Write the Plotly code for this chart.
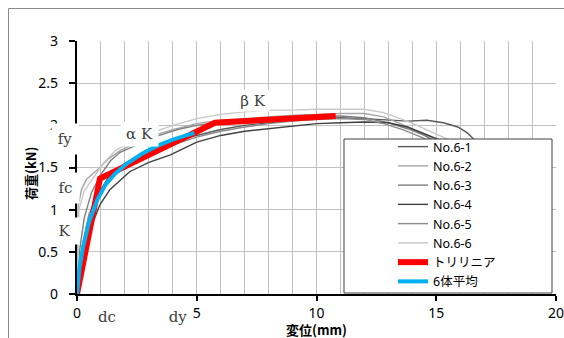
import plotly.graph_objects as go

# Load-displacement curves of the six specimens (displacement mm, load kN)
disp_61 = [0, 0.15, 0.4, 0.8, 1.3, 2.0, 3.0, 4.0, 5.0, 6.0, 7.0, 8.0, 9.0, 10.0, 11.0, 12.0, 13.0, 13.8, 14.6, 15.3, 15.9, 16.3, 16.55, 16.7]
load_61 = [0, 0.40, 0.80, 1.15, 1.38, 1.55, 1.70, 1.80, 1.88, 1.95, 2.00, 2.03, 2.06, 2.08, 2.09, 2.08, 2.06, 2.05, 2.06, 2.03, 1.98, 1.91, 1.84, 1.60]

disp_62 = [0, 0.02, 0.05, 0.2, 0.4, 0.96, 1.3, 1.8, 2.5, 3.2, 4.0, 5.0, 6.0, 7.0, 8.0, 9.0, 10.0, 11.0, 12.0, 12.8, 13.5, 14.2, 14.8, 15.3]
load_62 = [0, 0.50, 1.05, 1.25, 1.36, 1.50, 1.60, 1.70, 1.80, 1.88, 1.95, 2.02, 2.06, 2.08, 2.10, 2.12, 2.13, 2.14, 2.14, 2.10, 2.02, 1.93, 1.85, 1.70]

disp_63 = [0, 0.1, 0.3, 0.6, 1.0, 1.4, 1.8, 2.5, 3.3, 4.2, 5.0, 6.0, 7.0, 8.0, 9.0, 10.0, 11.0, 12.0, 13.0, 13.8, 14.5, 15.1, 15.4]
load_63 = [0, 0.50, 0.90, 1.20, 1.42, 1.58, 1.68, 1.77, 1.87, 1.95, 2.00, 2.04, 2.07, 2.09, 2.10, 2.11, 2.11, 2.09, 2.03, 1.96, 1.88, 1.78, 1.60]

disp_64 = [0, 0.3, 0.6, 0.96, 1.38, 2.2, 3.0, 3.9, 5.0, 6.0, 7.0, 8.0, 9.0, 10.0, 11.0, 12.0, 13.0, 13.8, 14.5, 15.2, 15.6]
load_64 = [0, 0.45, 0.80, 1.06, 1.24, 1.45, 1.56, 1.65, 1.80, 1.88, 1.93, 1.96, 1.99, 2.02, 2.03, 2.04, 2.03, 1.98, 1.90, 1.82, 1.70]

disp_65 = [0, 0.2, 0.5, 0.9, 1.4, 2.0, 3.0, 4.0, 5.0, 6.0, 7.0, 8.0, 9.0, 10.0, 11.0, 12.0, 12.8, 13.6, 14.3, 15.0, 15.3]
load_65 = [0, 0.55, 0.95, 1.20, 1.38, 1.52, 1.66, 1.77, 1.86, 1.93, 1.98, 2.02, 2.05, 2.07, 2.08, 2.07, 2.02, 1.95, 1.87, 1.78, 1.60]

disp_66 = [0, 0.03, 0.08, 0.3, 0.7, 1.1, 1.6, 2.2, 3.0, 4.0, 5.0, 6.0, 7.0, 8.0, 9.0, 10.0, 11.0, 12.0, 12.8, 13.5, 14.2, 15.0, 15.6, 16.0]
load_66 = [0, 0.60, 1.00, 1.22, 1.38, 1.55, 1.70, 1.80, 1.90, 2.00, 2.08, 2.13, 2.16, 2.18, 2.18, 2.19, 2.19, 2.19, 2.15, 2.08, 2.00, 1.90, 1.82, 1.70]

# Trilinear model: origin, crack point (dc, fc), yield point (dy, fy), end
tri_disp = [0, 0.96, 5.76, 10.8]
tri_load = [0, 1.37, 2.03, 2.11]

# Mean curve of the six specimens
avg_disp = [0, 0.1, 0.25, 0.5, 0.85, 1.2, 1.6, 2.1, 2.7, 3.3, 4.0, 4.9]
avg_load = [0, 0.30, 0.55, 0.85, 1.12, 1.30, 1.43, 1.55, 1.66, 1.75, 1.83, 1.91]

specimens = [
    ("No.6-1", disp_61, load_61, "#595959"),
    ("No.6-2", disp_62, load_62, "#A6A6A6"),
    ("No.6-3", disp_63, load_63, "#7F7F7F"),
    ("No.6-4", disp_64, load_64, "#404040"),
    ("No.6-5", disp_65, load_65, "#8C8C8C"),
    ("No.6-6", disp_66, load_66, "#C8C8C8"),
]

W, H = 564, 338
ML, MR, MT, MB = 77, 8, 41, 44
X_MAX, Y_MAX = 20, 3

fig = go.Figure()
for name, xs, ys, col in specimens:
    fig.add_trace(go.Scatter(x=xs, y=ys, mode="lines", name=name,
                             line=dict(color=col, width=1.4)))
fig.add_trace(go.Scatter(x=tri_disp, y=tri_load, mode="lines", name="トリリニア",
                         line=dict(color="#FF0000", width=6)))
fig.add_trace(go.Scatter(x=avg_disp, y=avg_load, mode="lines", name="6体平均",
                         line=dict(color="#00B0F0", width=4)))

axis_font = dict(family="Noto Sans, Noto Sans CJK JP", size=14, color="#000000")
label_font = dict(family="DejaVu Serif, Liberation Serif", size=15, color="#404040")
title_font = dict(family="Noto Sans CJK JP, Noto Sans", size=13, color="#000000")

fig.update_xaxes(range=[0, X_MAX], tickvals=[0, 5, 10, 15, 20],
                 ticktext=["0", "5", "10", "15", "20"],
                 showgrid=True, gridcolor="#C0C0C0", gridwidth=1,
                 minor=dict(dtick=1, showgrid=True, gridcolor="#C0C0C0", gridwidth=1),
                 showline=True, linecolor="#000000", linewidth=2.2,
                 ticks="outside", ticklen=5, tickwidth=1.5, tickcolor="#000000",
                 tickfont=axis_font, zeroline=False, ticklabelstandoff=0,
                 ticklabeloverflow="allow", automargin=False, layer="below traces")
fig.update_yaxes(range=[0, Y_MAX], tickvals=[0, 0.5, 1, 1.5, 2, 2.5, 3],
                 ticktext=["0", "0.5", "1", "1.5", "2", "2.5", "3"],
                 showgrid=True, gridcolor="#C0C0C0", gridwidth=1,
                 showline=True, linecolor="#000000", linewidth=2.2,
                 ticks="outside", ticklen=6, tickwidth=1.5, tickcolor="#000000",
                 tickfont=axis_font, zeroline=False, ticklabelstandoff=8,
                 ticklabeloverflow="allow", automargin=False, layer="below traces")

def px_to_paper(px, py):
    return (px - ML) / (W - ML - MR), (H - MB - py) / (H - MT - MB)

# Outer chart border and the legend frame (white, drawn over the curves)
bx0, by0 = px_to_paper(8.5, 8.5)
bx1, by1 = px_to_paper(W + 5, H + 5)
lx0, ly0 = px_to_paper(344, 293)
lx1, ly1 = px_to_paper(552, 139)
fig.add_shape(type="rect", xref="paper", yref="paper", x0=bx0, y0=by1, x1=bx1, y1=by0,
              line=dict(color="#8A8A8A", width=1), fillcolor="rgba(0,0,0,0)", layer="below")
fig.add_shape(type="rect", xref="paper", yref="paper", x0=lx0, y0=ly0, x1=lx1, y1=ly1,
              line=dict(color="#404040", width=1), fillcolor="#FFFFFF", layer="above")

# Characteristic-point labels
annos = []
def label(text, x, y, w, h, ref="paper"):
    annos.append(dict(text=text, x=x, y=y, xref=ref, yref=ref, showarrow=False,
                      font=label_font, bgcolor="#FFFFFF", width=w, height=h,
                      xanchor="center", yanchor="middle"))

fx, fyy = px_to_paper(65, 139)
label("fy", fx, fyy, 24, 28)
fx, fyy = px_to_paper(65, 188)
label("fc", fx, fyy, 25, 28)
fx, fyy = px_to_paper(64, 231)
label("K", fx, fyy, 27, 24)
label("α K", 2.6, 1.90, 35, 22, ref="x")
label("β K", 7.35, 2.30, 30, 19, ref="x")
fx, fyy = px_to_paper(107, 317)
label("dc", fx, fyy, 20, 18)
fx, fyy = px_to_paper(178, 317)
label("dy", fx, fyy, 20, 18)
for a in annos:
    if a["xref"] == "x":
        a["yref"] = "y"

# Axis titles
tx, ty = px_to_paper(30, 174)
annos.append(dict(text="<b>荷重(kN)</b>", x=tx, y=ty, xref="paper", yref="paper",
                  showarrow=False, textangle=-90, font=title_font,
                  xanchor="center", yanchor="middle"))
tx, ty = px_to_paper(316, 329)
annos.append(dict(text="<b>変位(mm)</b>", x=tx, y=ty, xref="paper", yref="paper",
                  showarrow=False, font=title_font, xanchor="center", yanchor="middle"))

lgx, lgy = px_to_paper(393, 132)
fig.update_layout(
    width=W, height=H,
    margin=dict(l=ML, r=MR, t=MT, b=MB, autoexpand=False),
    paper_bgcolor="#FFFFFF", plot_bgcolor="#FFFFFF",
    annotations=annos,
    showlegend=True,
    legend=dict(x=lgx, y=lgy, xanchor="left", yanchor="top",
                bgcolor="rgba(0,0,0,0)", borderwidth=0,
                font=dict(family="Noto Sans, Noto Sans CJK JP", size=12.5, color="#000000")),
)

fig.write_html("out.html")
